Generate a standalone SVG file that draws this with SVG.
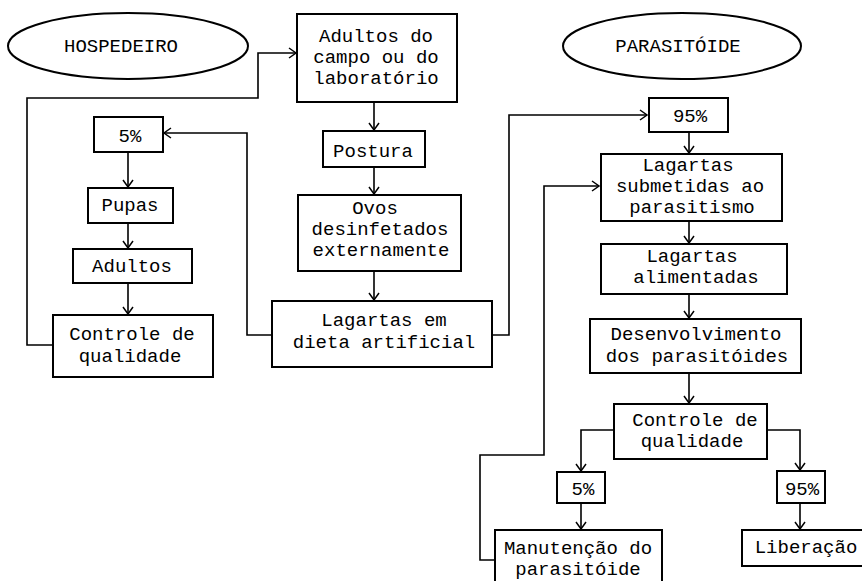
<svg xmlns="http://www.w3.org/2000/svg" width="862" height="581" viewBox="0 0 862 581">
<style>
.b{fill:#fff;stroke:#000;stroke-width:2}
.t{font-family:"Liberation Mono","DejaVu Sans Mono",monospace;font-size:19px;fill:#000;text-anchor:middle}
.c{fill:none;stroke:#000;stroke-width:1.6}
</style>
<defs>
<marker id="ah" viewBox="-9 -7 11 14" refX="0" refY="0" markerWidth="11" markerHeight="14" markerUnits="userSpaceOnUse" orient="auto">
<path d="M-7,-5 L0,0 L-7,5" fill="none" stroke="#000" stroke-width="1.5"/>
</marker>
</defs>
<rect width="862" height="581" fill="#fff"/>
<g id="connectors">
<path class="c" d="M53,345 H27 V98 H258 V53 H296" marker-end="url(#ah)"/>
<path class="c" d="M272,335 H247 V133 H164" marker-end="url(#ah)"/>
<path class="c" d="M492,335 H509 V115 H647" marker-end="url(#ah)"/>
<path class="c" d="M495,560 H480 V455 H544 V186 H599" marker-end="url(#ah)"/>
<path class="c" d="M128,152 V187" marker-end="url(#ah)"/>
<path class="c" d="M128,223 V248" marker-end="url(#ah)"/>
<path class="c" d="M128,283 V314" marker-end="url(#ah)"/>
<path class="c" d="M374,102 V130" marker-end="url(#ah)"/>
<path class="c" d="M374,167 V194" marker-end="url(#ah)"/>
<path class="c" d="M374,271 V300" marker-end="url(#ah)"/>
<path class="c" d="M689,132 V153" marker-end="url(#ah)"/>
<path class="c" d="M689,221 V243" marker-end="url(#ah)"/>
<path class="c" d="M689,294 V318" marker-end="url(#ah)"/>
<path class="c" d="M689,373 V403" marker-end="url(#ah)"/>
<path class="c" d="M614,430 H581 V471" marker-end="url(#ah)"/>
<path class="c" d="M767,430 H800 V470" marker-end="url(#ah)"/>
<path class="c" d="M581,503 V529" marker-end="url(#ah)"/>
<path class="c" d="M800,503 V529" marker-end="url(#ah)"/>
</g>
<g id="hospedeiro"><ellipse class="b" cx="128" cy="46" rx="120" ry="33" stroke-width="1.5"/><text class="t" x="121" y="52">HOSPEDEIRO</text></g>
<g id="parasitoide"><ellipse class="b" cx="682" cy="46" rx="119" ry="33" stroke-width="1.5"/><text class="t" x="678" y="52">PARASITÓIDE</text></g>
<g id="adultos-campo"><rect class="b" x="297" y="14" width="160" height="88"/><text class="t" x="376" y="42">Adultos do</text><text class="t" x="376" y="63">campo ou do</text><text class="t" x="376" y="84">laboratório</text></g>
<g id="postura"><rect class="b" x="323" y="131" width="102" height="36"/><text class="t" x="373" y="157">Postura</text></g>
<g id="ovos"><rect class="b" x="298" y="195" width="163" height="76"/><text class="t" x="375" y="214">Ovos</text><text class="t" x="380" y="235">desinfetados</text><text class="t" x="381" y="256">externamente</text></g>
<g id="lagartas-dieta"><rect class="b" x="272" y="301" width="220" height="66"/><text class="t" x="384" y="326">Lagartas em</text><text class="t" x="384" y="348">dieta artificial</text></g>
<g id="h5"><rect class="b" x="94" y="117" width="69" height="35"/><text class="t" x="130" y="142">5%</text></g>
<g id="pupas"><rect class="b" x="88" y="188" width="85" height="35"/><text class="t" x="130" y="211">Pupas</text></g>
<g id="adultos"><rect class="b" x="73" y="249" width="119" height="34"/><text class="t" x="132" y="272">Adultos</text></g>
<g id="controle-h"><rect class="b" x="53" y="315" width="160" height="62"/><text class="t" x="132" y="340">Controle de</text><text class="t" x="130" y="362">qualidade</text></g>
<g id="p95"><rect class="b" x="649" y="98" width="79" height="34"/><text class="t" x="690" y="122">95%</text></g>
<g id="lagartas-sub"><rect class="b" x="601" y="154" width="181" height="67"/><text class="t" x="688" y="171">Lagartas</text><text class="t" x="690" y="192">submetidas ao</text><text class="t" x="692" y="213">parasitismo</text></g>
<g id="lagartas-ali"><rect class="b" x="601" y="244" width="186" height="50"/><text class="t" x="692" y="262">Lagartas</text><text class="t" x="696" y="283">alimentadas</text></g>
<g id="desenv"><rect class="b" x="590" y="319" width="211" height="54"/><text class="t" x="696" y="340">Desenvolvimento</text><text class="t" x="697" y="362">dos parasitóides</text></g>
<g id="controle-p"><rect class="b" x="614" y="404" width="153" height="55"/><text class="t" x="695" y="426">Controle de</text><text class="t" x="692" y="447">qualidade</text></g>
<g id="p5"><rect class="b" x="557" y="472" width="48" height="31"/><text class="t" x="583" y="495">5%</text></g>
<g id="p95b"><rect class="b" x="777" y="471" width="48" height="32"/><text class="t" x="802" y="495">95%</text></g>
<g id="manutencao"><rect class="b" x="495" y="530" width="167" height="60"/><text class="t" x="578" y="554">Manutenção do</text><text class="t" x="578" y="575">parasitóide</text></g>
<g id="liberacao"><rect class="b" x="742" y="530" width="125" height="36"/><text class="t" x="806" y="553">Liberação</text></g>
</svg>
